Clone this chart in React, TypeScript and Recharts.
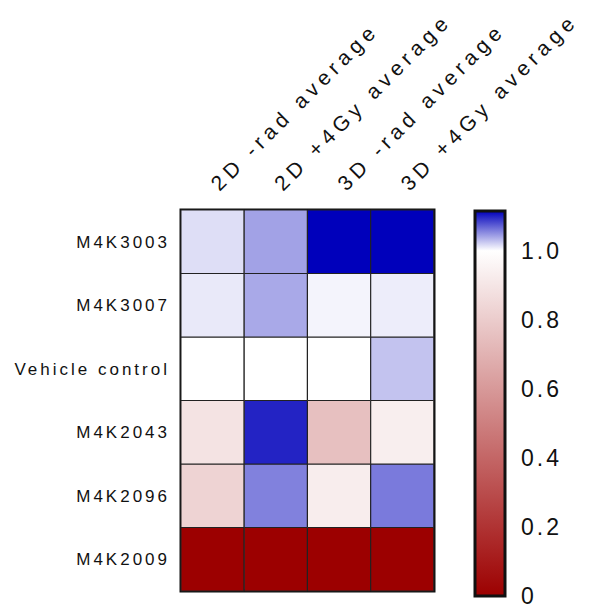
import { BarChart, Bar, Cell, XAxis, YAxis, ReferenceArea } from "recharts";

const COLUMNS = ["2D -rad average", "2D +4Gy average", "3D -rad average", "3D +4Gy average"];
const ROWS = ["M4K3003", "M4K3007", "Vehicle control", "M4K2043", "M4K2096", "M4K2009"];

// one array per row, in column order
const M4K3003 = [1.015, 1.042, 1.13, 1.13];
const M4K3007 = [1.01, 1.039, 1.005, 1.008];
const VEHICLE = [1.0, 1.0, 1.0, 1.027];
const M4K2043 = [0.89, 1.099, 0.753, 0.933];
const M4K2096 = [0.827, 1.057, 0.93, 1.06];
const M4K2009 = [0.0, 0.0, 0.0, 0.0];
const VALUES = [M4K3003, M4K3007, VEHICLE, M4K2043, M4K2096, M4K2009];

const SCALE_TICKS = [0, 0.2, 0.4, 0.6, 0.8, 1.0];
const SCALE_MAX = 1.115;

const LOW = [156, 0, 0];
const MID = [255, 255, 255];
const HIGH = [0, 0, 187];
const FONT = "'Liberation Sans', Arial, sans-serif";

function mix(a: number[], b: number[], t: number) {
    return a.map((x, i) => Math.round(x + (b[i] - x) * t));
}

function colorFor(v: number) {
    const c = v <= 1
        ? mix(LOW, MID, Math.max(0, v))
        : mix(MID, HIGH, Math.min(1, (v - 1) / (SCALE_MAX - 1)));
    return `rgb(${c.join(",")})`;
}

const cellData = COLUMNS.map((name) => {
    const row: Record<string, string | number> = { name };
    ROWS.forEach((_, ri) => { row[`r${ri}`] = 1; });
    return row;
});

const scaleData = [{ name: "scale", top: SCALE_MAX }];

function ColumnTick(props: any) {
    const { x, y, payload } = props;
    const px = x + 7;
    return (
        <text x={px} y={y} transform={`rotate(-45, ${px}, ${y})`}
            fontSize={21} letterSpacing={5} fill="#111" fontFamily={FONT}>
            {payload.value}
        </text>
    );
}

export default function App() {
    const rowOrder = ROWS.map((_, i) => i).reverse();

    return (
        <div style={{ position: "absolute", left: 0, top: 0, width: 589, height: 610, background: "#fff" }}>
            <BarChart width={589} height={610} data={cellData}
                margin={{ top: 0, left: 0, right: 155, bottom: 19 }}
                barCategoryGap={0} barGap={0}
                style={{ position: "absolute", left: 0, top: 0 }}>
                <XAxis xAxisId="top" dataKey="name" orientation="top" height={210}
                    tickLine={false} axisLine={false} tickSize={0} tickMargin={18}
                    interval={0} tick={(p: any) => <ColumnTick {...p} />} />
                <YAxis type="number" domain={[0, 6]} width={181}
                    ticks={ROWS.map((_, i) => i + 0.5)}
                    tickFormatter={(v: number) => ROWS[ROWS.length - 1 - Math.floor(v)]}
                    tickLine={false} axisLine={false} tickSize={0} tickMargin={11}
                    tick={{ fontSize: 17, letterSpacing: 3, fill: "#111", fontFamily: FONT }} />
                {rowOrder.map((ri) => (
                    <Bar key={ri} dataKey={`r${ri}`} stackId="h" xAxisId="top"
                        stroke="#222" strokeWidth={1} isAnimationActive={false}>
                        {COLUMNS.map((c, ci) => (
                            <Cell key={c} fill={colorFor(VALUES[ri][ci])} />
                        ))}
                    </Bar>
                ))}
                <ReferenceArea xAxisId="top" y1={0} y2={6} fill="none"
                    stroke="#111" strokeWidth={3} />
            </BarChart>

            <BarChart width={589} height={610} data={scaleData}
                margin={{ top: 211, left: 475, right: 0, bottom: 14 }}
                barCategoryGap={0} barGap={0}
                style={{ position: "absolute", left: 0, top: 0 }}>
                <defs>
                    <linearGradient id="scaleGrad" x1="0" y1="0" x2="0" y2="1">
                        <stop offset="0" stopColor={colorFor(SCALE_MAX)} />
                        <stop offset={(SCALE_MAX - 1) / SCALE_MAX} stopColor={colorFor(1)} />
                        <stop offset="1" stopColor={colorFor(0)} />
                    </linearGradient>
                </defs>
                <XAxis dataKey="name" hide />
                <YAxis yAxisId="lbl" orientation="right" width={84}
                    domain={[0, SCALE_MAX]} ticks={SCALE_TICKS}
                    tickFormatter={(v: number) => (v === 0 ? "0" : v.toFixed(1))}
                    tickLine={false} axisLine={false} tickSize={0} tickMargin={16}
                    tick={{ fontSize: 23, letterSpacing: 3, fill: "#111", fontFamily: FONT }} />
                <YAxis yAxisId="inL" orientation="left" mirror width={0}
                    domain={[0, SCALE_MAX]} ticks={SCALE_TICKS} tick={false}
                    axisLine={false} tickSize={6}
                    tickLine={{ stroke: "#111", strokeWidth: 3 }} />
                <YAxis yAxisId="inR" orientation="right" mirror width={0}
                    domain={[0, SCALE_MAX]} ticks={SCALE_TICKS} tick={false}
                    axisLine={false} tickSize={5}
                    tickLine={{ stroke: "#111", strokeWidth: 3 }} />
                <Bar dataKey="top" yAxisId="lbl" fill="url(#scaleGrad)"
                    stroke="#111" strokeWidth={3} isAnimationActive={false} />
            </BarChart>
        </div>
    );
}
